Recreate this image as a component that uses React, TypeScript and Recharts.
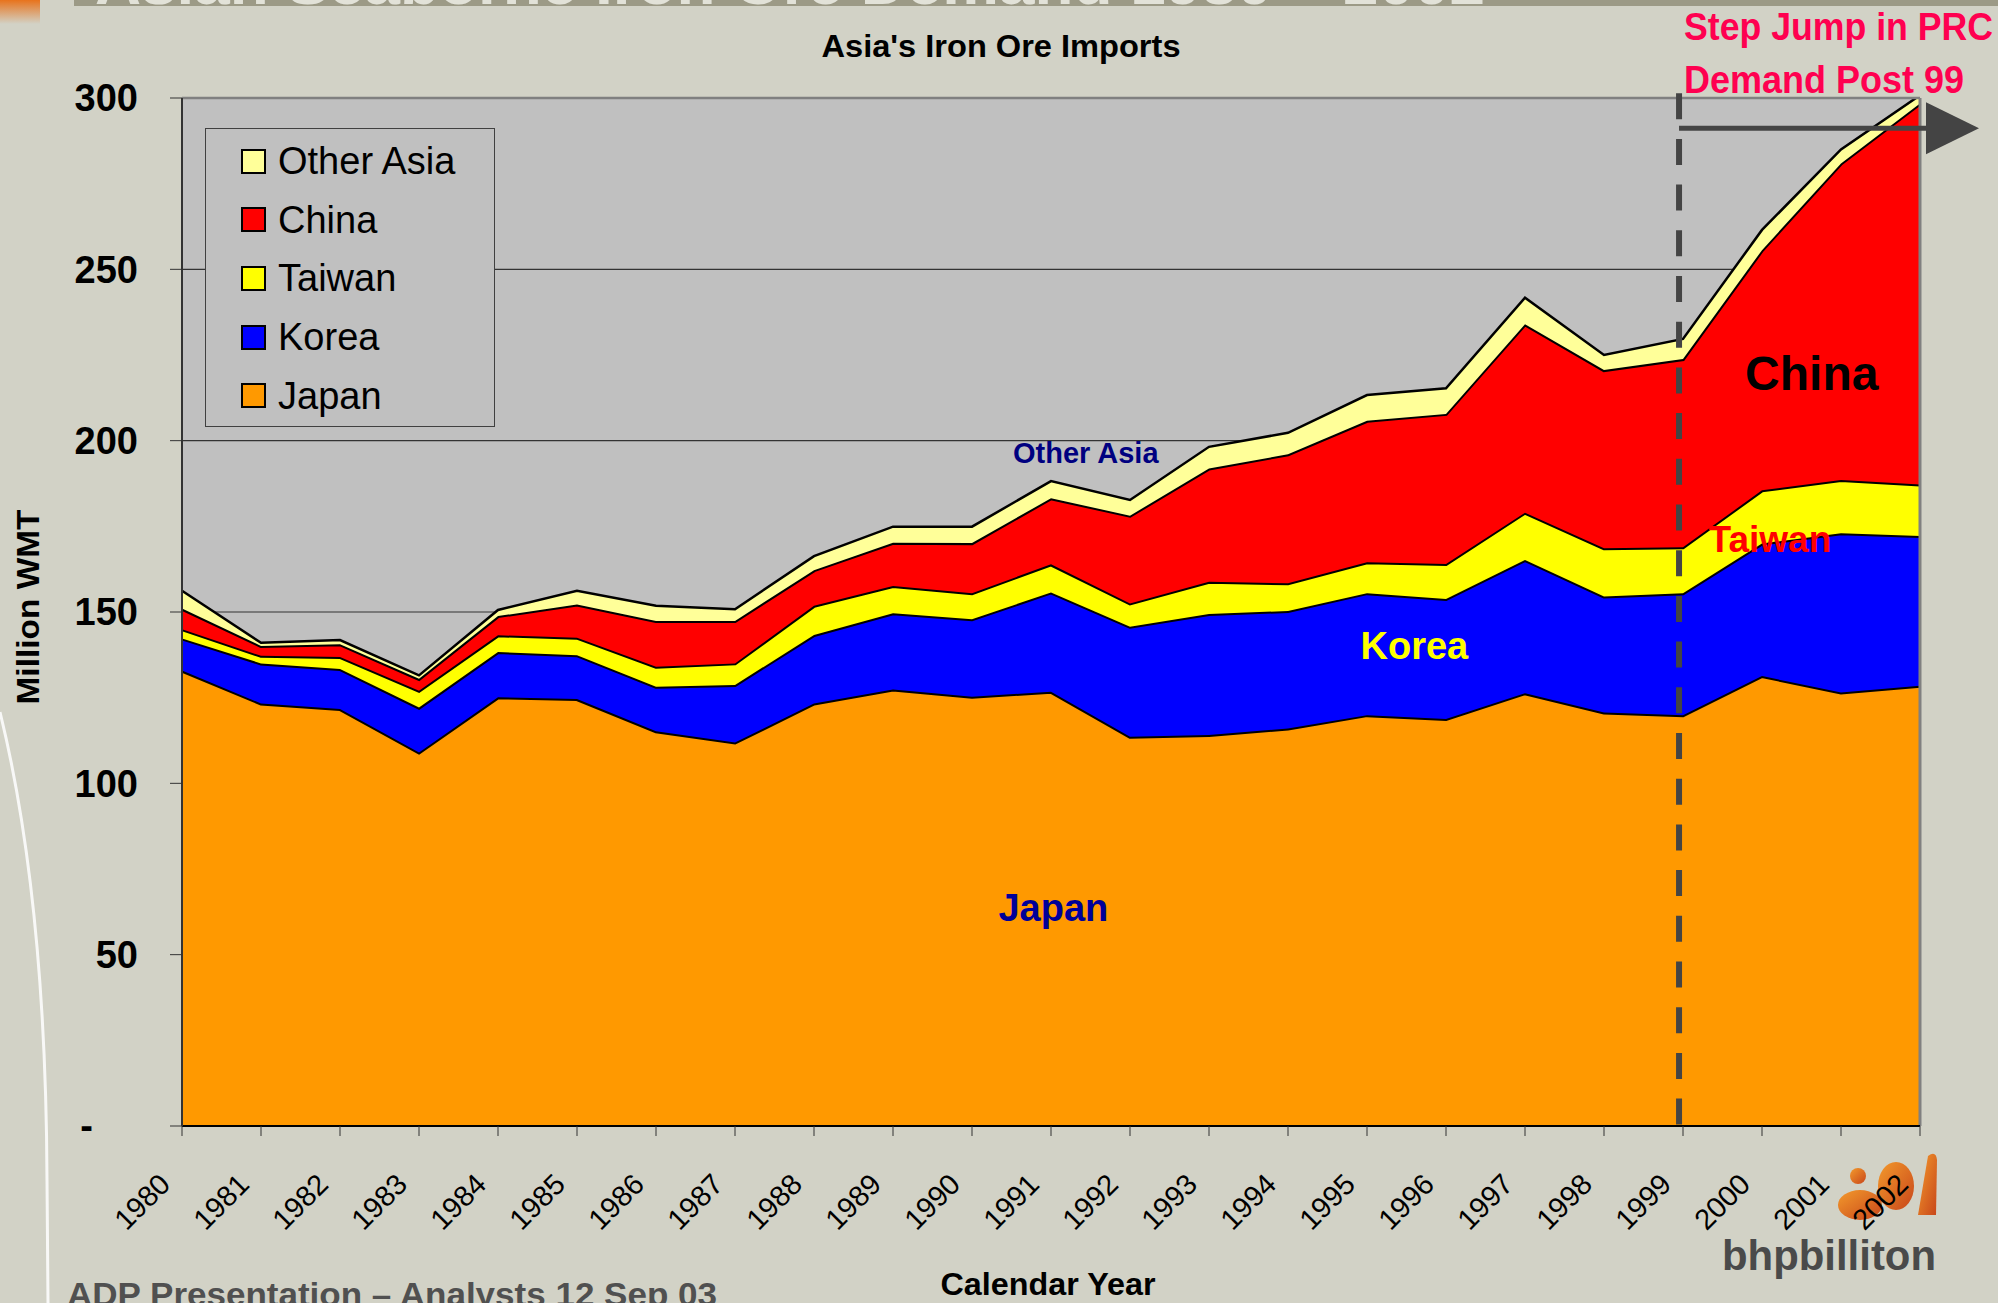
import React from 'react';
import { AreaChart, Area, XAxis, YAxis, CartesianGrid, Legend, ReferenceLine, ReferenceDot } from 'recharts';

const FONT = '"Liberation Sans", Arial, Helvetica, sans-serif';

// Million WMT (each layer's own thickness)
const years = [1980, 1981, 1982, 1983, 1984, 1985, 1986, 1987, 1988, 1989, 1990, 1991, 1992, 1993, 1994, 1995, 1996, 1997, 1998, 1999, 2000, 2001, 2002];
const japan = [132.9, 123.3, 121.7, 109.0, 125.1, 124.6, 115.2, 111.9, 123.3, 127.4, 125.3, 126.7, 113.6, 114.1, 116.0, 119.9, 118.8, 126.3, 120.7, 119.9, 131.3, 126.5, 128.5];
const korea = [9.4, 11.7, 11.7, 13.1, 13.2, 12.8, 13.0, 16.8, 20.0, 22.2, 22.6, 29.0, 32.1, 35.3, 34.3, 35.6, 35.0, 38.9, 33.8, 35.6, 38.7, 46.5, 43.7];
const taiwan = [2.7, 2.2, 3.5, 4.9, 4.9, 5.1, 5.8, 6.3, 8.5, 8.0, 7.6, 8.2, 6.8, 9.4, 8.1, 9.0, 10.2, 13.8, 14.1, 13.4, 15.5, 15.5, 15.0];
const china = [6.0, 2.9, 3.7, 3.5, 5.6, 9.7, 13.4, 12.4, 10.4, 12.6, 14.6, 19.3, 25.6, 33.1, 37.6, 41.3, 43.8, 55.0, 52.0, 54.9, 70.1, 92.4, 111.2];
const otherAsia = [5.2, 0.9, 1.2, 1.0, 1.8, 4.0, 4.4, 3.4, 4.1, 4.7, 4.8, 5.0, 4.6, 6.3, 6.3, 7.5, 7.5, 7.7, 4.4, 5.9, 5.9, 4.1, 2.4];
const yTicks = [0, 50, 100, 150, 200, 250, 300];

const seriesList = [
    { key: 'japan', name: 'Japan', color: '#FF9900', width: 4 },
    { key: 'korea', name: 'Korea', color: '#0000FF', width: 4 },
    { key: 'taiwan', name: 'Taiwan', color: '#FFFF00', width: 4 },
    { key: 'china', name: 'China', color: '#FF0000', width: 4 },
    { key: 'other', name: 'Other Asia', color: '#FFFF99', width: 2.5 },
];

const chartData = years.map((year, i) => ({
    year,
    japan: japan[i],
    korea: korea[i],
    taiwan: taiwan[i],
    china: china[i],
    other: otherAsia[i],
}));

const YTick: React.FC<any> = ({ x, y, payload }) => {
    const zero = payload.value === 0;
    return (
        <text x={zero ? x - 45 : x} y={y} dy="0.355em" textAnchor="end" fontFamily={FONT} fontWeight="bold" fontSize={38} fill="#000">
            {zero ? '-' : payload.value}
        </text>
    );
};

const XTick: React.FC<any> = ({ x, y, payload }) => {
    const ax = x - 10;
    const ay = y + 48;
    return (
        <text x={ax} y={ay} textAnchor="end" transform={`rotate(-45 ${ax} ${ay})`} fontFamily={FONT} fontSize={29} fill="#000">
            {payload.value}
        </text>
    );
};

// legend lists the stack top-down, like the Excel original
const LegendBox: React.FC<any> = () => {
    const items = [...seriesList].reverse();
    return (
        <div style={{ width: 290, height: 299, boxSizing: 'border-box', border: '1.5px solid #404040', background: '#C0C0C0', paddingTop: 3 }}>
            {items.map(s => (
                <div key={s.key} style={{ height: 58.6, display: 'flex', alignItems: 'center' }}>
                    <span style={{ display: 'inline-block', width: 25, height: 25, boxSizing: 'border-box', border: '2px solid #000', background: s.color, marginLeft: 35, marginRight: 12 }} />
                    <span style={{ fontFamily: FONT, fontSize: 38, color: '#000', lineHeight: 1 }}>{s.name}</span>
                </div>
            ))}
        </div>
    );
};

const ArrowShape: React.FC<any> = ({ x1, y1, x2, y2 }) => (
    <g>
        <line x1={x1} y1={y1} x2={x2 + 6} y2={y2} stroke="#444444" strokeWidth={5} />
        <polygon points={`${x2 + 6},${y2 - 26} ${x2 + 6},${y2 + 26} ${x2 + 59},${y2}`} fill="#444444" />
    </g>
);

const annoLabel = (text: string, color: string, size: number) => (props: any) => {
    const vb = props.viewBox || {};
    const cx = (vb.x || 0) + (vb.width || 0) / 2;
    const cy = (vb.y || 0) + (vb.height || 0) / 2;
    return (
        <text x={cx} y={cy} dy="0.355em" textAnchor="middle" fontFamily={FONT} fontWeight="bold" fontSize={size} fill={color}>
            {text}
        </text>
    );
};

const App: React.FC = () => {
    return (
        <div style={{ position: 'absolute', left: 0, top: 0, width: 1998, height: 1303, overflow: 'hidden' }}>
            {/* slide background */}
            <svg width={1998} height={1303} style={{ position: 'absolute', left: 0, top: 0 }}>
                <defs>
                    <clipPath id="band">
                        <rect x={74} y={0} width={1924} height={6} />
                    </clipPath>
                    <linearGradient id="corner" x1="0" y1="0" x2="0" y2="1">
                        <stop offset="0" stopColor="#E8731C" />
                        <stop offset="1" stopColor="#D2D2C6" />
                    </linearGradient>
                    <linearGradient id="blob" x1="0" y1="0" x2="1" y2="1">
                        <stop offset="0" stopColor="#F39A2C" />
                        <stop offset="1" stopColor="#C8461A" />
                    </linearGradient>
                </defs>
                <rect width={1998} height={1303} fill="#D2D2C6" />
                <rect x={0} y={0} width={40} height={24} fill="url(#corner)" />
                <rect x={74} y={0} width={1924} height={6} fill="#9C9A86" />
                <text x={95} y={4} clipPath="url(#band)" fontFamily={FONT} fontWeight="bold" fontSize={60} fill="#E2E2D8" textLength={1390} lengthAdjust="spacingAndGlyphs">
                    Asian Seaborne Iron Ore Demand 1980 – 2002
                </text>
                <path d="M0,712 Q46,900 47,1180 L48,1303" fill="none" stroke="#FFFFFF" strokeWidth={3} opacity={0.85} />
                <text x={67} y={1306} fontFamily={FONT} fontWeight="bold" fontSize={34} fill="#505050" textLength={650} lengthAdjust="spacingAndGlyphs">
                    ADP Presentation – Analysts 12 Sep 03
                </text>
                <circle cx={1858} cy={1176} r={8} fill="url(#blob)" />
                <ellipse cx={1860} cy={1205} rx={22} ry={15} fill="url(#blob)" />
                <ellipse cx={1896} cy={1186} rx={18} ry={24} fill="url(#blob)" />
                <path d="M1918,1215 L1928,1156 Q1936,1150 1937,1160 L1936,1215 Z" fill="url(#blob)" />
                <text x={1722} y={1270} fontFamily={FONT} fontWeight="bold" fontSize={43} fill="#4A4A4A" textLength={214} lengthAdjust="spacingAndGlyphs">
                    bhpbilliton
                </text>
            </svg>

            <div style={{ position: 'absolute', left: 0, top: 0 }}>
                <AreaChart width={1998} height={1303} data={chartData} margin={{ top: 98, right: 78, bottom: 117, left: 82 }}>
                    <CartesianGrid vertical={false} fill="#C0C0C0" stroke="#333333" strokeWidth={1.2} />
                    <XAxis
                        dataKey="year"
                        type="number"
                        domain={[1980, 2002]}
                        ticks={years}
                        interval={0}
                        height={60}
                        tickSize={10}
                        tickMargin={2}
                        tick={<XTick />}
                        axisLine={{ stroke: '#000', strokeWidth: 2 }}
                        tickLine={{ stroke: '#333' }}
                    />
                    <YAxis
                        domain={[0, 300]}
                        ticks={yTicks}
                        allowDataOverflow
                        width={100}
                        tickSize={12}
                        tickMargin={32}
                        tick={<YTick />}
                        axisLine={{ stroke: '#333', strokeWidth: 2 }}
                        tickLine={{ stroke: '#333' }}
                    />
                    <Legend
                        layout="vertical"
                        align="center"
                        verticalAlign="middle"
                        content={<LegendBox />}
                        wrapperStyle={{ left: 205, top: 128, width: 290, height: 299 }}
                    />
                    {seriesList.map(s => (
                        <Area
                            key={s.key}
                            type="linear"
                            dataKey={s.key}
                            name={s.name}
                            stackId="asia"
                            fill={s.color}
                            fillOpacity={1}
                            stroke="#000"
                            strokeWidth={s.width}
                            dot={false}
                            activeDot={false}
                            isAnimationActive={false}
                        />
                    ))}
                    <ReferenceLine y={300} stroke="#808080" strokeWidth={2.5} />
                    <ReferenceLine x={2002} stroke="#808080" strokeWidth={3} />
                    <ReferenceLine
                        segment={[{ x: 1998.95, y: 301.4 }, { x: 1998.95, y: -1 }]}
                        ifOverflow="visible"
                        stroke="#444444"
                        strokeWidth={6}
                        strokeDasharray="26 19.7"
                    />
                    <ReferenceLine
                        segment={[{ x: 1998.95, y: 291.2 }, { x: 2002, y: 291.2 }]}
                        ifOverflow="visible"
                        shape={<ArrowShape />}
                    />
                    <ReferenceDot x={1991.03} y={63.9} r={0} fill="none" stroke="none" label={{ content: annoLabel('Japan', '#000099', 38) }} />
                    <ReferenceDot x={1995.6} y={140.2} r={0} fill="none" stroke="none" label={{ content: annoLabel('Korea', '#FFFF00', 38) }} />
                    <ReferenceDot x={2000.1} y={171.4} r={0} fill="none" stroke="none" label={{ content: annoLabel('Taiwan', '#FF0000', 37) }} />
                    <ReferenceDot x={2000.63} y={219.9} r={0} fill="none" stroke="none" label={{ content: annoLabel('China', '#000000', 48) }} />
                    <ReferenceDot x={1991.44} y={196.4} r={0} fill="none" stroke="none" label={{ content: annoLabel('Other Asia', '#000080', 29) }} />
                </AreaChart>
            </div>

            {/* titles and callout */}
            <svg width={1998} height={1303} style={{ position: 'absolute', left: 0, top: 0, pointerEvents: 'none' }}>
                <text x={1001} y={57} textAnchor="middle" fontFamily={FONT} fontWeight="bold" fontSize={32} fill="#000" textLength={359} lengthAdjust="spacingAndGlyphs">
                    Asia's Iron Ore Imports
                </text>
                <text x={28} y={607} dy="0.355em" textAnchor="middle" transform="rotate(-90 28 607)" fontFamily={FONT} fontWeight="bold" fontSize={32} fill="#000" textLength={195} lengthAdjust="spacingAndGlyphs">
                    Million WMT
                </text>
                <text x={1048} y={1295} textAnchor="middle" fontFamily={FONT} fontWeight="bold" fontSize={32} fill="#000" textLength={215} lengthAdjust="spacingAndGlyphs">
                    Calendar Year
                </text>
                <text x={1684} y={40} fontFamily={FONT} fontWeight="bold" fontSize={38} fill="#FF0050" textLength={309} lengthAdjust="spacingAndGlyphs">
                    Step Jump in PRC
                </text>
                <text x={1684} y={93} fontFamily={FONT} fontWeight="bold" fontSize={38} fill="#FF0050" textLength={280} lengthAdjust="spacingAndGlyphs">
                    Demand Post 99
                </text>
            </svg>
        </div>
    );
};

export default App;
